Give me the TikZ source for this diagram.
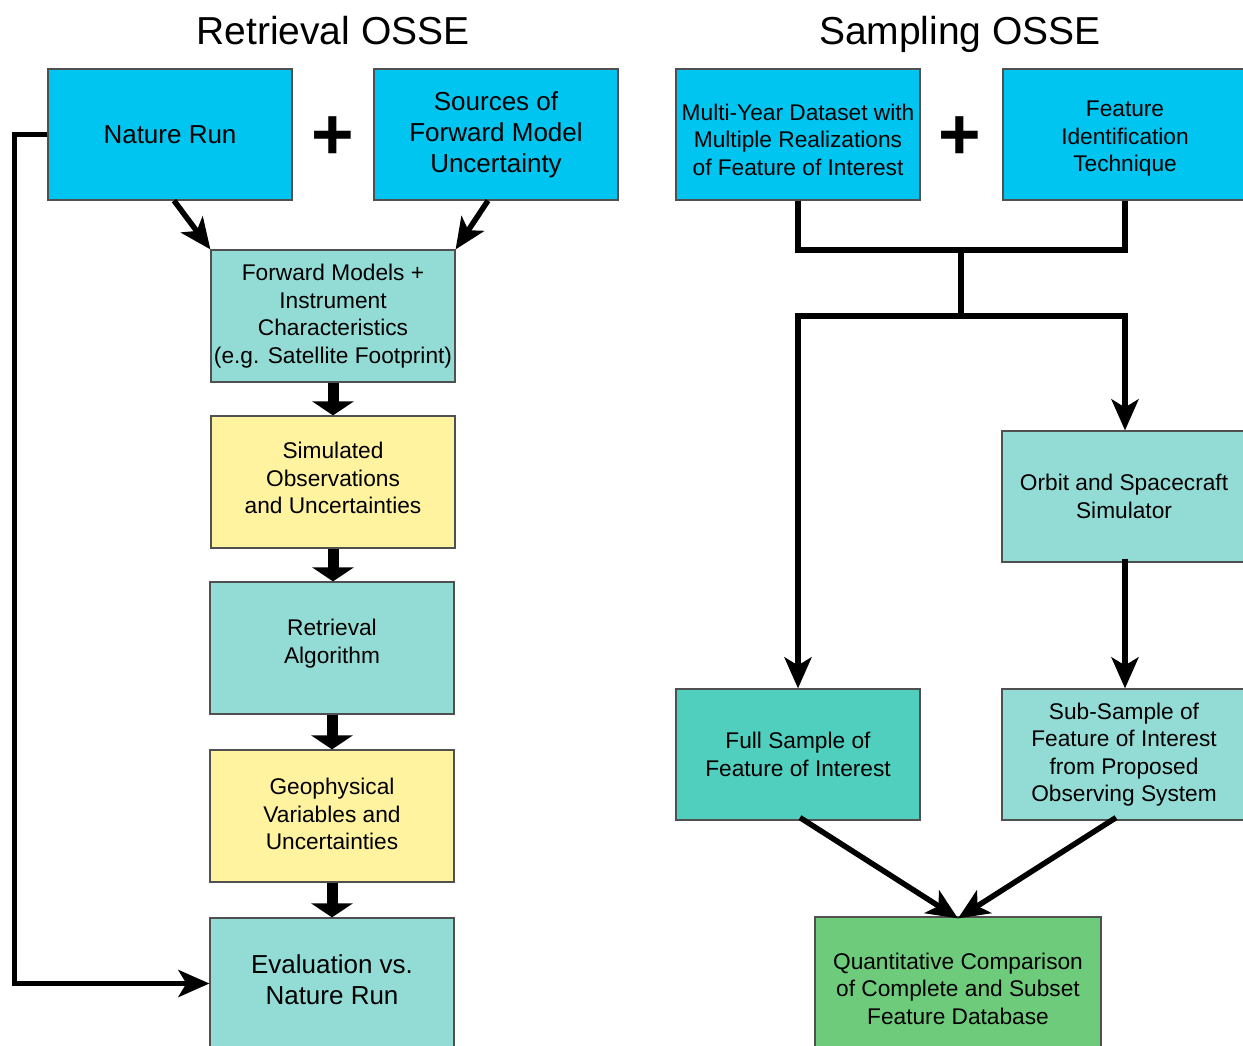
\documentclass[tikz,border=0pt]{standalone}
\usepackage{fontspec}
\setmainfont{Liberation Sans}
\usetikzlibrary{arrows.meta,calc}
\definecolor{cyanbox}{RGB}{0,197,240}
\definecolor{tealbox}{RGB}{147,220,214}
\definecolor{yellowbox}{RGB}{255,243,159}
\definecolor{fullbox}{RGB}{80,206,190}
\definecolor{greenbox}{RGB}{110,203,123}
\definecolor{edgegray}{RGB}{80,80,80}
\tikzset{
  box/.style={draw=edgegray, line width=1.2pt, minimum width=244pt, minimum height=131pt,
    inner sep=0pt, align=center, text=black, font=\fontsize{22.7}{27.5}\selectfont},
  bigtext/.style={font=\fontsize{26}{31}\selectfont},
  title/.style={font=\fontsize{39}{39}\selectfont, anchor=base},
  plussign/.style={font=\fontsize{73}{73}\selectfont\bfseries, inner sep=0pt},
  conn/.style={line width=5.5pt, draw=black},
  connarrow/.style={conn, -{Stealth[length=31pt,width=27pt,inset=8pt]}},
  fatarrow/.style={line width=11pt, draw=black, -{Triangle[length=14pt,width=41pt]}},
}
\begin{document}
\begin{tikzpicture}[x=1pt,y=-1pt]
\useasboundingbox (0,0) rectangle (1243,1045);

% titles
\node[title] (t1) at (333,44) {Retrieval OSSE};
\node[title] (t2) at (960,44) {Sampling OSSE};

% left column
\node[box, bigtext, fill=cyanbox] (nr) at (170,134.5) {Nature Run};
\node[box, bigtext, fill=cyanbox] (src) at (496,134.5) {Sources of\\Forward Model\\Uncertainty};
\node[plussign] (p1) at (333,138.5) {+};
\node[box, fill=tealbox, minimum height=132pt] (fm) at (333,316) {Forward Models +\\Instrument\\Characteristics\\(e.g. Satellite Footprint)};
\node[box, fill=yellowbox, minimum height=132pt] (so) at (333,482) {Simulated\\Observations\\and Uncertainties\\[-19.5pt]};
\node[box, fill=tealbox, minimum height=132pt] (ra) at (332,648) {Retrieval\\Algorithm\\[-14pt]};
\node[box, fill=yellowbox, minimum height=132pt] (gv) at (332,816) {Geophysical\\Variables and\\Uncertainties\\[-23.5pt]};
\node[box, bigtext, fill=tealbox] (ev) at (332,983.5) {Evaluation vs.\\Nature Run\\[-23pt]};

% right column
\node[box, fill=cyanbox] (my) at (798,134.5) {Multi-Year Dataset with\\Multiple Realizations\\of Feature of Interest\\[-37.5pt]};
\node[box, fill=cyanbox] (fi) at (1125,134.5) {Feature\\Identification\\Technique\\[-31pt]};
\node[plussign] (p2) at (960,138.5) {+};
\node[box, fill=tealbox] (os) at (1124,496.5) {Orbit and Spacecraft\\Simulator};
\node[box, fill=fullbox] (fs) at (798,754.5) {Full Sample of\\Feature of Interest};
\node[box, fill=tealbox] (ss) at (1124,754.5) {Sub-Sample of\\Feature of Interest\\from Proposed\\Observing System};
\node[box, fill=greenbox, minimum width=286pt] (qc) at (958,982.5) {Quantitative Comparison\\of Complete and Subset\\Feature Database\\[-39.5pt]};

% left connectors
\draw[connarrow] (nr.west) -- ++(-33,0) |- (ev.west);
\draw[connarrow] ([xshift=4pt]nr.south) -- (fm.north west);
\draw[connarrow] ([xshift=-8pt]src.south) -- (fm.north east);
\draw[fatarrow] (fm.south) -- (fm.south |- so.north);
\draw[fatarrow] (so.south) -- (so.south |- ra.north);
\draw[fatarrow] (ra.south) -- (ra.south |- gv.north);
\draw[fatarrow] (gv.south) -- (gv.south |- ev.north);

% right connectors
\coordinate (j1) at (961,250);
\coordinate (j2) at (961,316);
\draw[conn, line join=miter] (my.south) |- (fi.south |- j1) -- (fi.south);
\draw[conn] (j1) -- (j2);
\draw[connarrow, line join=miter] (j2) -| (fs.north);
\draw[connarrow, line join=miter] (j2) -| (fi.south |- os.north);
\draw[connarrow] ([yshift=4pt]os.south -| fi.south) -- (fi.south |- ss.north);
\draw[connarrow] ([xshift=2pt,yshift=3pt]fs.south) -- ([yshift=-2pt]qc.north);
\draw[connarrow] ([xshift=-8pt,yshift=3pt]ss.south) -- ([yshift=-2pt]qc.north);
\end{tikzpicture}
\end{document}
